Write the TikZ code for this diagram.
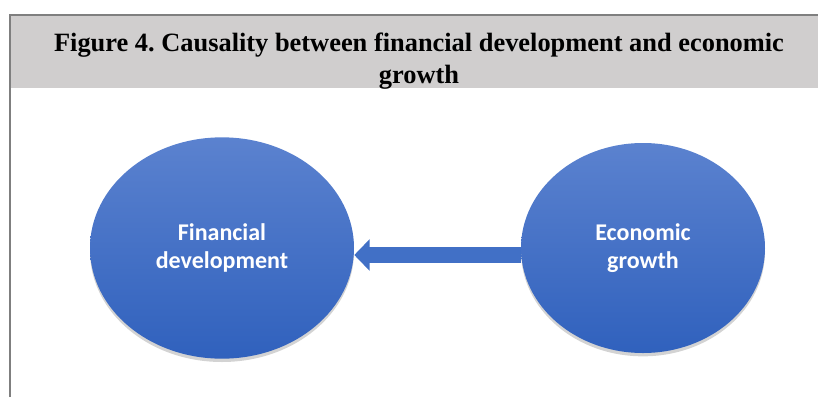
\documentclass[tikz,border=0pt]{standalone}
\usepackage{fontspec}
\setmainfont{Liberation Serif}
\newfontfamily\labelfont{Carlito}
\usetikzlibrary{shapes.geometric,arrows.meta,shadows}
\frenchspacing

\definecolor{headgray}{HTML}{D0CECE}
\definecolor{framegray}{HTML}{7F7F7F}
\definecolor{bluetop}{HTML}{5B82CF}
\definecolor{bluebot}{HTML}{3061BD}
\definecolor{bluearrow}{HTML}{4170C6}

\tikzset{
  oval/.style={ellipse, inner sep=0pt, top color=bluetop, bottom color=bluebot,
    draw=none, text=white, align=center,
    font=\labelfont\bfseries\fontsize{18}{21}\selectfont,
    drop shadow={opacity=.35, shadow xshift=0pt, shadow yshift=-2.5pt}},
  causal/.style={line width=12pt, draw=bluearrow,
    -{Triangle[length=11.5pt, width=23pt]},
    drop shadow={opacity=.3, shadow xshift=0pt, shadow yshift=-2pt}}
}

\begin{document}
\begin{tikzpicture}[x=.75pt, y=-.75pt]
\useasboundingbox (0,0) rectangle (818,397);
% frame and heading
\fill[headgray] (10,15) rectangle (818,88);
\draw[framegray, line width=1.6pt] (10,397) -- (10,15) -- (818,15);
\node[font=\bfseries\fontsize{19.8}{23.5}\selectfont, align=center] (title) at (419,61)
  {Figure 4. Causality between financial development and economic\\growth};

% the two variables
\node[oval, minimum width=198pt, minimum height=166pt] (fd) at (222,248)
  {Financial\\development};
\node[oval, minimum width=183pt, minimum height=157.5pt] (eg) at (643,248)
  {Economic\\growth};

\draw[causal] ([yshift=-5.25pt]eg.west) -- ([yshift=-5.25pt]fd.east);
\end{tikzpicture}
\end{document}
